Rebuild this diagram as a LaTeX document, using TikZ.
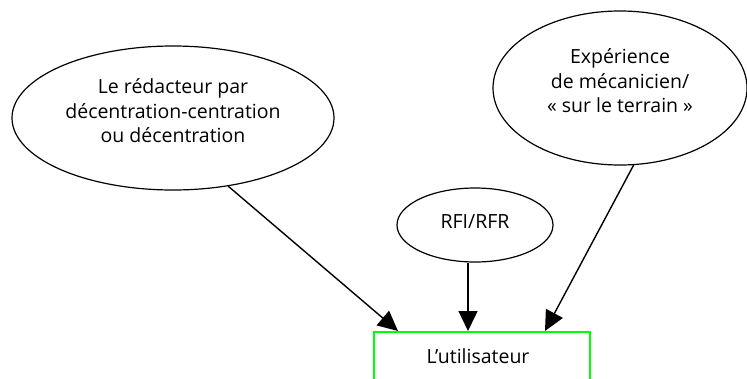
\documentclass[tikz,border=0pt]{standalone}
\usepackage{fontspec}
\setmainfont{Open Sans}
\usetikzlibrary{shapes.geometric,arrows.meta,calc}
\definecolor{boxgreen}{RGB}{0,255,0}
\tikzset{
  bubble/.style={ellipse, draw, line width=1.2pt, inner sep=0pt},
  caption/.style={align=center, inner sep=0pt, font=\fontsize{19.5}{24.5}\selectfont},
  userbox/.style={rectangle, draw=boxgreen, line width=1.6pt, inner sep=0pt,
    minimum width=216pt, minimum height=60pt},
  flow/.style={draw, line width=1.4pt, -{Triangle[length=20pt,width=19pt]}}
}
\begin{document}
\begin{tikzpicture}[x=1pt,y=-1pt]
  \useasboundingbox (0,0) rectangle (747,378);
  % the three sources
  \node[bubble, minimum width=322pt, minimum height=144pt] (writer) at (173,118) {};
  \node[caption] (writertext) at (173,111)
    {Le rédacteur par\\décentration-centration\\ou décentration};
  \node[bubble, minimum width=254pt, minimum height=154pt] (field) at (620,88) {};
  \node[caption] (fieldtext) at (620,81)
    {Expérience\\de mécanicien/\\« sur le terrain »};
  \node[bubble, minimum width=156pt, minimum height=74pt] (rfi) at (475,225) {};
  \node[caption] (rfitext) at (475,222) {RFI/RFR};
  % the receiver
  \node[userbox, anchor=north west] (user) at (373,331) {};
  \node[caption] (usertext) at (478,356) {L’utilisateur};
  % links
  \draw[flow] (writer.-51) -- ($(user.north west)+(25,0)$);
  \draw[flow] (rfi.south -| 468,0) -- ($(user.north west)+(95,0)$);
  \draw[flow] (field.-80) -- ($(user.north west)+(172,0)$);
\end{tikzpicture}
\end{document}
